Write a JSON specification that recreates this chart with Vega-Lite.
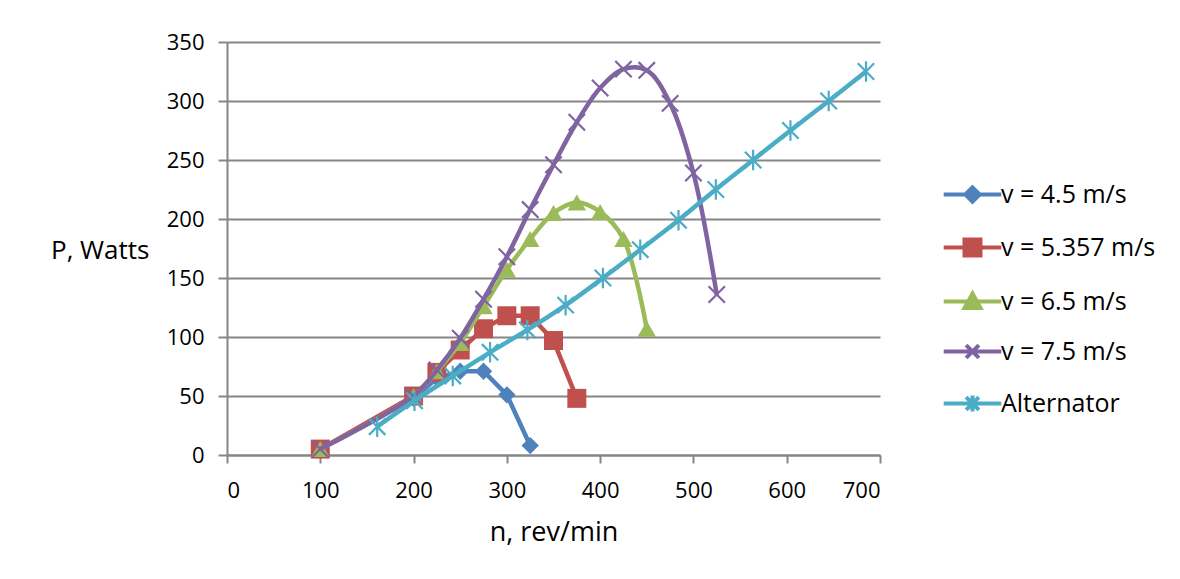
{
  "$schema": "https://vega.github.io/schema/vega-lite/v6.json",
  "autosize": {"type": "none"},
  "width": 653,
  "height": 413,
  "padding": {"left": 227, "top": 42, "right": 300, "bottom": 124},
  "background": "white",
  "config": {
    "view": {"stroke": null},
    "font": "Open Sans",
    "axis": {"labelFont": "Open Sans", "titleFont": "Open Sans", "labelColor": "#000000", "titleColor": "#000000", "titleFontWeight": "normal"},
    "legend": {"labelFont": "Open Sans", "labelColor": "#000000"}
  },
  "data": {
    "values": [
      {"series": "v = 4.5 m/s", "n": 100, "P": 5},
      {"series": "v = 4.5 m/s", "n": 200, "P": 48},
      {"series": "v = 4.5 m/s", "n": 225, "P": 65},
      {"series": "v = 4.5 m/s", "n": 250, "P": 71},
      {"series": "v = 4.5 m/s", "n": 275, "P": 71},
      {"series": "v = 4.5 m/s", "n": 300, "P": 51},
      {"series": "v = 4.5 m/s", "n": 325, "P": 8},
      {"series": "v = 5.357 m/s", "n": 100, "P": 5},
      {"series": "v = 5.357 m/s", "n": 200, "P": 50},
      {"series": "v = 5.357 m/s", "n": 225, "P": 70},
      {"series": "v = 5.357 m/s", "n": 250, "P": 89},
      {"series": "v = 5.357 m/s", "n": 275, "P": 107},
      {"series": "v = 5.357 m/s", "n": 300, "P": 118},
      {"series": "v = 5.357 m/s", "n": 325, "P": 118},
      {"series": "v = 5.357 m/s", "n": 350, "P": 97},
      {"series": "v = 5.357 m/s", "n": 375, "P": 48},
      {"series": "v = 6.5 m/s", "n": 100, "P": 5},
      {"series": "v = 6.5 m/s", "n": 200, "P": 50},
      {"series": "v = 6.5 m/s", "n": 225, "P": 71},
      {"series": "v = 6.5 m/s", "n": 250, "P": 95},
      {"series": "v = 6.5 m/s", "n": 275, "P": 126},
      {"series": "v = 6.5 m/s", "n": 300, "P": 157},
      {"series": "v = 6.5 m/s", "n": 325, "P": 183},
      {"series": "v = 6.5 m/s", "n": 350, "P": 205},
      {"series": "v = 6.5 m/s", "n": 375, "P": 214},
      {"series": "v = 6.5 m/s", "n": 400, "P": 206},
      {"series": "v = 6.5 m/s", "n": 425, "P": 183},
      {"series": "v = 6.5 m/s", "n": 450, "P": 107},
      {"series": "v = 7.5 m/s", "n": 100, "P": 5},
      {"series": "v = 7.5 m/s", "n": 200, "P": 50},
      {"series": "v = 7.5 m/s", "n": 225, "P": 72},
      {"series": "v = 7.5 m/s", "n": 250, "P": 99},
      {"series": "v = 7.5 m/s", "n": 275, "P": 132},
      {"series": "v = 7.5 m/s", "n": 300, "P": 168},
      {"series": "v = 7.5 m/s", "n": 325, "P": 208},
      {"series": "v = 7.5 m/s", "n": 350, "P": 246},
      {"series": "v = 7.5 m/s", "n": 375, "P": 282},
      {"series": "v = 7.5 m/s", "n": 400, "P": 311},
      {"series": "v = 7.5 m/s", "n": 425, "P": 327},
      {"series": "v = 7.5 m/s", "n": 450, "P": 326},
      {"series": "v = 7.5 m/s", "n": 475, "P": 298},
      {"series": "v = 7.5 m/s", "n": 500, "P": 239},
      {"series": "v = 7.5 m/s", "n": 525, "P": 136},
      {"series": "Alternator", "n": 161, "P": 24},
      {"series": "Alternator", "n": 201, "P": 46},
      {"series": "Alternator", "n": 242, "P": 67},
      {"series": "Alternator", "n": 282, "P": 87},
      {"series": "Alternator", "n": 322, "P": 106},
      {"series": "Alternator", "n": 363, "P": 127},
      {"series": "Alternator", "n": 403, "P": 150},
      {"series": "Alternator", "n": 443, "P": 174},
      {"series": "Alternator", "n": 484, "P": 199},
      {"series": "Alternator", "n": 524, "P": 225},
      {"series": "Alternator", "n": 564, "P": 250},
      {"series": "Alternator", "n": 604, "P": 275},
      {"series": "Alternator", "n": 645, "P": 300},
      {"series": "Alternator", "n": 685, "P": 325}
    ]
  },
  "encoding": {
    "x": {
      "field": "n", "type": "quantitative",
      "scale": {"domain": [0, 700], "nice": false},
      "axis": {
        "title": "n, rev/min", "values": [0, 100, 200, 300, 400, 500, 600, 700],
        "grid": false, "domainColor": "#868686", "domainWidth": 2, "tickColor": "#868686", "tickWidth": 2, "tickSize": 8,
        "labelFontSize": 22, "labelPadding": 17, "titleFontSize": 27, "titlePadding": 18
      }
    },
    "y": {
      "field": "P", "type": "quantitative",
      "scale": {"domain": [0, 350], "nice": false},
      "axis": {
        "title": "P, Watts", "values": [0, 50, 100, 150, 200, 250, 300, 350],
        "grid": true, "gridColor": "#868686", "gridWidth": 2,
        "domainColor": "#868686", "domainWidth": 2, "tickColor": "#868686", "tickWidth": 2, "tickSize": 9,
        "labelFontSize": 22, "labelPadding": 14, "titleFontSize": 26,
        "titleAngle": 0, "titleAlign": "right", "titleBaseline": "middle", "titleX": -78, "titleY": 208
      }
    },
    "color": {
      "field": "series", "type": "nominal",
      "scale": {
        "domain": ["v = 4.5 m/s", "v = 5.357 m/s", "v = 6.5 m/s", "v = 7.5 m/s", "Alternator"],
        "range": ["#4F81BD", "#C0504D", "#9BBB59", "#8064A2", "#4BACC6"]
      },
      "legend": {
        "title": null, "orient": "none", "legendX": 733, "legendY": 140, "padding": 0,
        "labelFontSize": 25, "labelOffset": 16, "rowPadding": 21, "symbolSize": 256, "symbolStrokeWidth": 4,
        "symbolType": {"expr": "datum.value === 'v = 4.5 m/s' ? 'M-3.6,0L3.6,0M0,-0.9L0.9,0L0,0.9L-0.9,0Z' : datum.value === 'v = 5.357 m/s' ? 'M-3.6,0L3.6,0M-1,-1L1,-1L1,1L-1,1Z' : datum.value === 'v = 6.5 m/s' ? 'M-3.6,0L3.6,0M0,-1L1,0.8L-1,0.8Z' : datum.value === 'v = 7.5 m/s' ? 'M-3.6,0L3.6,0M-0.8,-0.8L0.8,0.8M-0.8,0.8L0.8,-0.8' : 'M-3.6,0L3.6,0M-0.8,-0.8L0.8,0.8M-0.8,0.8L0.8,-0.8M0,-1L0,1'"}
      }
    }
  },
  "layer": [
    {
      "transform": [{"filter": {"field": "series", "equal": "v = 4.5 m/s"}}],
      "mark": {"type": "line", "strokeWidth": 4.5, "interpolate": "linear"}
    },
    {
      "transform": [{"filter": {"field": "series", "equal": "v = 4.5 m/s"}}],
      "mark": {"type": "point", "filled": true, "opacity": 1, "size": 300, "shape": "diamond"}
    },
    {
      "transform": [{"filter": {"field": "series", "equal": "v = 5.357 m/s"}}],
      "mark": {"type": "line", "strokeWidth": 4.5, "interpolate": "linear"}
    },
    {
      "transform": [{"filter": {"field": "series", "equal": "v = 5.357 m/s"}}],
      "mark": {"type": "point", "filled": true, "opacity": 1, "size": 360, "shape": "square"}
    },
    {
      "transform": [{"filter": {"field": "series", "equal": "v = 6.5 m/s"}}],
      "mark": {"type": "line", "strokeWidth": 4.5, "interpolate": "catmull-rom"}
    },
    {
      "transform": [{"filter": {"field": "series", "equal": "v = 6.5 m/s"}}],
      "mark": {"type": "point", "filled": true, "opacity": 1, "size": 340, "shape": "triangle-up"}
    },
    {
      "transform": [{"filter": {"field": "series", "equal": "v = 7.5 m/s"}}],
      "mark": {"type": "line", "strokeWidth": 4.5, "interpolate": "catmull-rom"}
    },
    {
      "transform": [{"filter": {"field": "series", "equal": "v = 7.5 m/s"}}],
      "mark": {"type": "point", "filled": false, "opacity": 1, "size": 420, "strokeWidth": 2.2, "shape": "M-0.8,-0.8L0.8,0.8M-0.8,0.8L0.8,-0.8"}
    },
    {
      "transform": [{"filter": {"field": "series", "equal": "Alternator"}}],
      "mark": {"type": "line", "strokeWidth": 4.5, "interpolate": "catmull-rom"}
    },
    {
      "transform": [{"filter": {"field": "series", "equal": "Alternator"}}],
      "mark": {"type": "point", "filled": false, "opacity": 1, "size": 420, "strokeWidth": 2.2, "shape": "M-0.8,-0.8L0.8,0.8M-0.8,0.8L0.8,-0.8M0,-1L0,1"}
    }
  ]
}
